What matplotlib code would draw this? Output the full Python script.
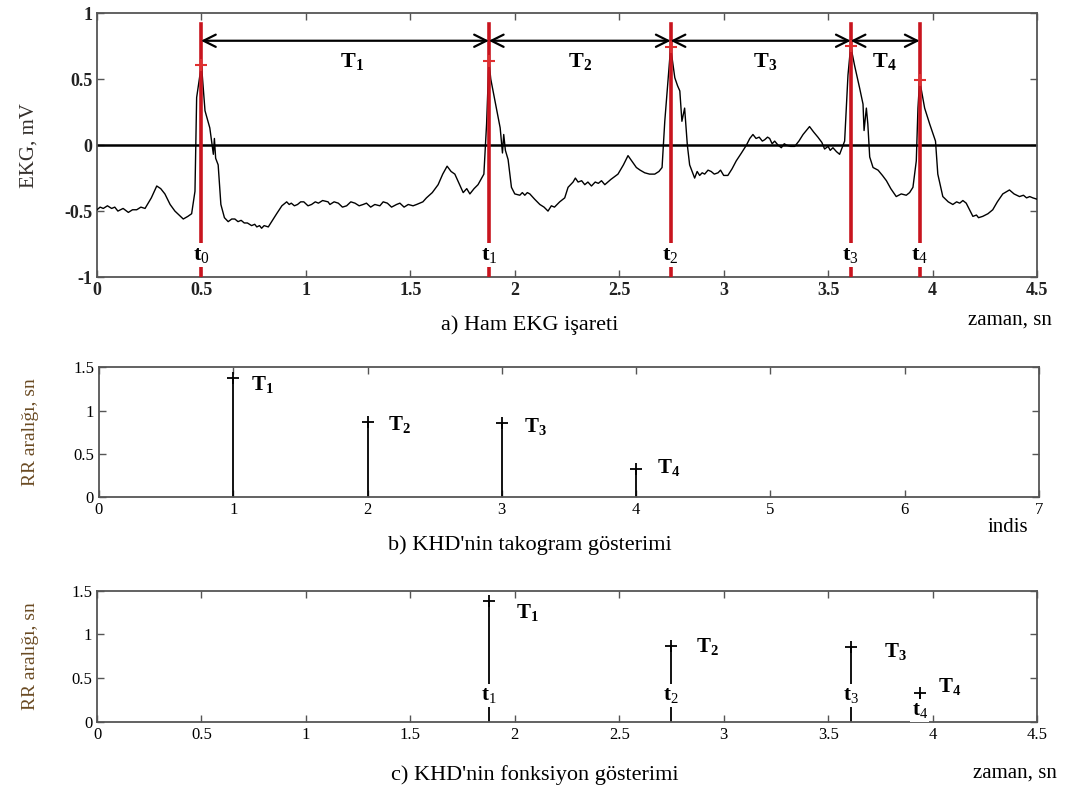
import matplotlib
matplotlib.use("Agg")
import matplotlib.pyplot as plt

plt.rcParams['font.family'] = ['Liberation Serif', 'DejaVu Serif']
plt.rcParams['mathtext.fontset'] = 'custom'
plt.rcParams['mathtext.rm'] = 'Liberation Serif'
plt.rcParams['mathtext.bf'] = 'Liberation Serif:bold'
plt.rcParams['mathtext.it'] = 'Liberation Serif:italic'

# ---------------- data ----------------
ecg_t = [0.00, 0.015, 0.03, 0.05, 0.07, 0.085, 0.10, 0.125, 0.15, 0.17, 0.19, 0.21, 0.23, 0.26, 0.286,
         0.305, 0.325, 0.35, 0.373, 0.393, 0.413, 0.435, 0.453, 0.469, 0.477, 0.49, 0.50, 0.51,
         0.517, 0.54, 0.557, 0.562, 0.568, 0.58, 0.593, 0.61, 0.628, 0.645, 0.66, 0.675, 0.69,
         0.705, 0.72, 0.74, 0.755, 0.765, 0.778, 0.788, 0.80, 0.82, 0.84, 0.86, 0.885, 0.908,
         0.92, 0.93, 0.945, 0.96, 0.975, 0.99, 1.01, 1.027, 1.045, 1.06, 1.08, 1.106, 1.115,
         1.135, 1.155, 1.175, 1.195, 1.215, 1.235, 1.255, 1.274, 1.29, 1.31, 1.33, 1.354, 1.37,
         1.39, 1.41, 1.434, 1.45, 1.47, 1.49, 1.513, 1.53, 1.545, 1.56, 1.577, 1.605, 1.633,
         1.655, 1.676, 1.695, 1.713, 1.73, 1.753, 1.77, 1.785, 1.805, 1.824, 1.852, 1.865,
         1.876, 1.885, 1.896, 1.912, 1.93, 1.941, 1.947, 1.955, 1.968, 1.984, 2.0, 2.024, 2.036,
         2.048, 2.06, 2.072, 2.095, 2.12, 2.14, 2.159, 2.175, 2.19, 2.215, 2.239, 2.255, 2.279,
         2.29, 2.303, 2.32, 2.335, 2.35, 2.367, 2.385, 2.40, 2.415, 2.431, 2.46, 2.494, 2.52,
         2.542, 2.56, 2.582, 2.60, 2.622, 2.645, 2.67, 2.69, 2.705, 2.718, 2.746, 2.766, 2.779,
         2.79, 2.80, 2.813, 2.826, 2.837, 2.861, 2.873, 2.885, 2.897, 2.909, 2.925, 2.94, 2.955,
         2.973, 2.985, 3.0, 3.02, 3.04, 3.06, 3.085, 3.109, 3.125, 3.14, 3.155, 3.17, 3.185,
         3.196, 3.21, 3.22, 3.232, 3.244, 3.26, 3.276, 3.29, 3.30, 3.32, 3.34, 3.36, 3.38,
         3.411, 3.43, 3.451, 3.47, 3.483, 3.50, 3.51, 3.523, 3.54, 3.555, 3.579, 3.595, 3.608,
         3.627, 3.651, 3.667, 3.672, 3.683, 3.69, 3.699, 3.715, 3.739, 3.76, 3.779, 3.80, 3.826,
         3.85, 3.874, 3.89, 3.906, 3.922, 3.93, 3.938, 3.962, 3.986, 4.001, 4.014, 4.025, 4.049,
         4.075, 4.097, 4.115, 4.13, 4.145, 4.161, 4.18, 4.193, 4.21, 4.22, 4.24, 4.265, 4.288,
         4.31, 4.336, 4.368, 4.39, 4.416, 4.435, 4.45, 4.465, 4.48, 4.50]
ecg_v = [-0.49, -0.47, -0.48, -0.46, -0.48, -0.47, -0.50, -0.48, -0.51, -0.49, -0.49, -0.47, -0.48, -0.40,
         -0.31, -0.33, -0.37, -0.45, -0.50, -0.53, -0.56, -0.54, -0.52, -0.35, 0.36, 0.50, 0.61,
         0.40, 0.26, 0.13, -0.07, 0.05, -0.10, -0.15, -0.45, -0.55, -0.58, -0.56, -0.56, -0.58,
         -0.57, -0.59, -0.59, -0.61, -0.60, -0.62, -0.61, -0.63, -0.61, -0.62, -0.57, -0.52,
         -0.46, -0.43, -0.45, -0.44, -0.46, -0.45, -0.43, -0.43, -0.46, -0.45, -0.43, -0.44,
         -0.42, -0.43, -0.45, -0.43, -0.44, -0.47, -0.46, -0.43, -0.44, -0.46, -0.45, -0.44,
         -0.47, -0.45, -0.46, -0.43, -0.44, -0.47, -0.45, -0.44, -0.47, -0.45, -0.46, -0.45,
         -0.44, -0.43, -0.40, -0.36, -0.30, -0.22, -0.16, -0.20, -0.22, -0.28, -0.36, -0.33,
         -0.37, -0.33, -0.30, -0.22, 0.16, 0.64, 0.50, 0.41, 0.28, 0.13, -0.06, 0.08, -0.04,
         -0.11, -0.32, -0.37, -0.38, -0.36, -0.38, -0.36, -0.37, -0.41, -0.45, -0.47, -0.50,
         -0.46, -0.47, -0.43, -0.40, -0.32, -0.28, -0.25, -0.28, -0.27, -0.30, -0.28, -0.31,
         -0.28, -0.29, -0.27, -0.30, -0.26, -0.22, -0.15, -0.08, -0.12, -0.17, -0.19, -0.21,
         -0.22, -0.22, -0.20, -0.17, 0.18, 0.74, 0.51, 0.45, 0.41, 0.18, 0.28, 0.0, -0.15,
         -0.25, -0.20, -0.23, -0.21, -0.22, -0.19, -0.20, -0.22, -0.21, -0.19, -0.23, -0.23,
         -0.18, -0.12, -0.06, 0.0, 0.05, 0.08, 0.05, 0.06, 0.03, 0.04, 0.06, 0.05, 0.01, 0.03,
         0.0, -0.02, 0.01, 0.0, -0.01, -0.01, 0.03, 0.08, 0.14, 0.10, 0.06, 0.02, -0.03, -0.01,
         -0.04, -0.02, -0.05, -0.07, 0.03, 0.53, 0.75, 0.60, 0.43, 0.31, 0.11, 0.28, 0.16,
         -0.09, -0.17, -0.19, -0.23, -0.27, -0.33, -0.39, -0.37, -0.38, -0.36, -0.32, -0.12,
         0.28, 0.49, 0.28, 0.16, 0.09, 0.03, -0.22, -0.39, -0.43, -0.45, -0.43, -0.44, -0.42,
         -0.44, -0.50, -0.54, -0.53, -0.55, -0.54, -0.52, -0.49, -0.43, -0.37, -0.34, -0.37,
         -0.39, -0.38, -0.40, -0.39, -0.40, -0.41]

r_times = [0.498, 1.876, 2.746, 3.608, 3.938]     # t0..t4 (s)
r_peaks = [0.61, 0.64, 0.74, 0.75, 0.49]          # R peak amplitudes (mV)
rr_index = [1, 2, 3, 4]
rr_values = [1.38, 0.87, 0.86, 0.33]              # T1..T4 (s)
t_labels = ['t$_0$', 't$_1$', 't$_2$', 't$_3$', 't$_4$']
T_labels = [r'$\mathbf{T}_{\mathbf{1}}$', r'$\mathbf{T}_{\mathbf{2}}$',
            r'$\mathbf{T}_{\mathbf{3}}$', r'$\mathbf{T}_{\mathbf{4}}$']

# ---------------- figure ----------------
fig = plt.figure(figsize=(10.79, 7.94), dpi=100)
ax1 = fig.add_axes([0.0899, 0.651, 0.8712, 0.3326])
ax2 = fig.add_axes([0.0917, 0.3737, 0.8712, 0.1637])
ax3 = fig.add_axes([0.0899, 0.0911, 0.8712, 0.1650])

red = '#c8141e'
for ax in (ax1, ax2, ax3):
    ax.tick_params(direction='in', top=True, right=True, length=5, width=1, color='#555555')
    for s in ax.spines.values():
        s.set_linewidth(1.3)
        s.set_color('#555555')

# ---- panel a ----
ax1.plot(ecg_t, ecg_v, color='black', lw=1.0, zorder=3)
ax1.axhline(0, color='black', lw=1.8, zorder=2)
for i, (tr, pk) in enumerate(zip(r_times, r_peaks)):
    ax1.plot([tr, tr], [-1, 0.92], color=red, lw=2.6, zorder=4)
    ax1.plot([tr], [pk], marker='+', color='#e03030', ms=9, mew=1.5, zorder=5)
    ax1.text(tr, -0.83, t_labels[i], ha='center', va='center', fontsize=16, fontweight='bold',
             bbox=dict(facecolor='white', edgecolor='none', pad=1.5), zorder=6)
for i in range(4):
    ax1.annotate('', xy=(r_times[i + 1], 0.79), xytext=(r_times[i], 0.79),
                 arrowprops=dict(arrowstyle='<->', color='black', lw=1.6, mutation_scale=22,
                                 shrinkA=0, shrinkB=0), zorder=6)
T_pos_a = [1.22, 2.31, 3.2, 3.77]
for i in range(4):
    ax1.text(T_pos_a[i], 0.63, T_labels[i], ha='center', va='center', fontsize=16, zorder=6)
ax1.set_xlim(0, 4.5)
ax1.set_ylim(-1, 1)
ax1.set_xticks([0, 0.5, 1, 1.5, 2, 2.5, 3, 3.5, 4, 4.5])
ax1.set_xticklabels(['0', '0.5', '1', '1.5', '2', '2.5', '3', '3.5', '4', '4.5'])
ax1.set_yticks([-1, -0.5, 0, 0.5, 1])
ax1.set_yticklabels(['-1', '-0.5', '0', '0.5', '1'])
for lab in ax1.get_xticklabels() + ax1.get_yticklabels():
    lab.set_fontweight('bold')
    lab.set_fontsize(13)
    lab.set_color('#222222')
ax1.set_ylabel('EKG, mV', fontsize=15, color='#35302c')
ax1.yaxis.set_label_coords(-0.062, 0.5)

# ---- panel b ----
ax2.vlines(rr_index, 0, rr_values, color='black', lw=1.3)
ax2.plot(rr_index, rr_values, ls='none', marker='+', color='black', ms=8, mew=1.3)
T_pos_b = [(1.22, 1.30), (2.24, 0.84), (3.25, 0.82), (4.24, 0.34)]
for i in range(4):
    ax2.text(T_pos_b[i][0], T_pos_b[i][1], T_labels[i], ha='center', va='center', fontsize=15)
ax2.set_xlim(0, 7)
ax2.set_ylim(0, 1.5)
ax2.set_xticks(range(8))
ax2.set_yticks([0, 0.5, 1, 1.5])
ax2.set_yticklabels(['0', '0.5', '1', '1.5'])
for lab in ax2.get_xticklabels() + ax2.get_yticklabels():
    lab.set_fontsize(12)
ax2.set_ylabel('RR aralığı, sn', fontsize=14, color='#6a4a22')
ax2.yaxis.set_label_coords(-0.064, 0.5)

# ---- panel c ----
ax3.vlines(r_times[1:], 0, rr_values, color='black', lw=1.3)
ax3.plot(r_times[1:], rr_values, ls='none', marker='+', color='black', ms=8, mew=1.3)
T_pos_c = [(2.06, 1.25), (2.92, 0.86), (3.82, 0.80), (4.08, 0.40)]
t_pos_c = [0.30, 0.30, 0.30, 0.13]
for i in range(4):
    ax3.text(T_pos_c[i][0], T_pos_c[i][1], T_labels[i], ha='center', va='center', fontsize=15)
    ax3.text(r_times[i + 1], t_pos_c[i], t_labels[i + 1], ha='center', va='center', fontsize=15,
             fontweight='bold', bbox=dict(facecolor='white', edgecolor='none', pad=1.0), zorder=5)
ax3.set_xlim(0, 4.5)
ax3.set_ylim(0, 1.5)
ax3.set_xticks([0, 0.5, 1, 1.5, 2, 2.5, 3, 3.5, 4, 4.5])
ax3.set_xticklabels(['0', '0.5', '1', '1.5', '2', '2.5', '3', '3.5', '4', '4.5'])
ax3.set_yticks([0, 0.5, 1, 1.5])
ax3.set_yticklabels(['0', '0.5', '1', '1.5'])
for lab in ax3.get_xticklabels() + ax3.get_yticklabels():
    lab.set_fontsize(12)
ax3.set_ylabel('RR aralığı, sn', fontsize=14, color='#6a4a22')
ax3.yaxis.set_label_coords(-0.062, 0.5)

# ---- captions ----
fig.text(530 / 1079, 1 - 325 / 794, 'a) Ham EKG işareti', ha='center', va='center', fontsize=16)
fig.text(1010 / 1079, 1 - 320 / 794, 'zaman, sn', ha='center', va='center', fontsize=15)
fig.text(530 / 1079, 1 - 545 / 794, "b) KHD'nin takogram gösterimi", ha='center', va='center', fontsize=16)
fig.text(1008 / 1079, 1 - 528 / 794, 'indis', ha='center', va='center', fontsize=15)
fig.text(535 / 1079, 1 - 775 / 794, "c) KHD'nin fonksiyon gösterimi", ha='center', va='center', fontsize=16)
fig.text(1015 / 1079, 1 - 773 / 794, 'zaman, sn', ha='center', va='center', fontsize=15)

fig.savefig('out.png', dpi=100)
